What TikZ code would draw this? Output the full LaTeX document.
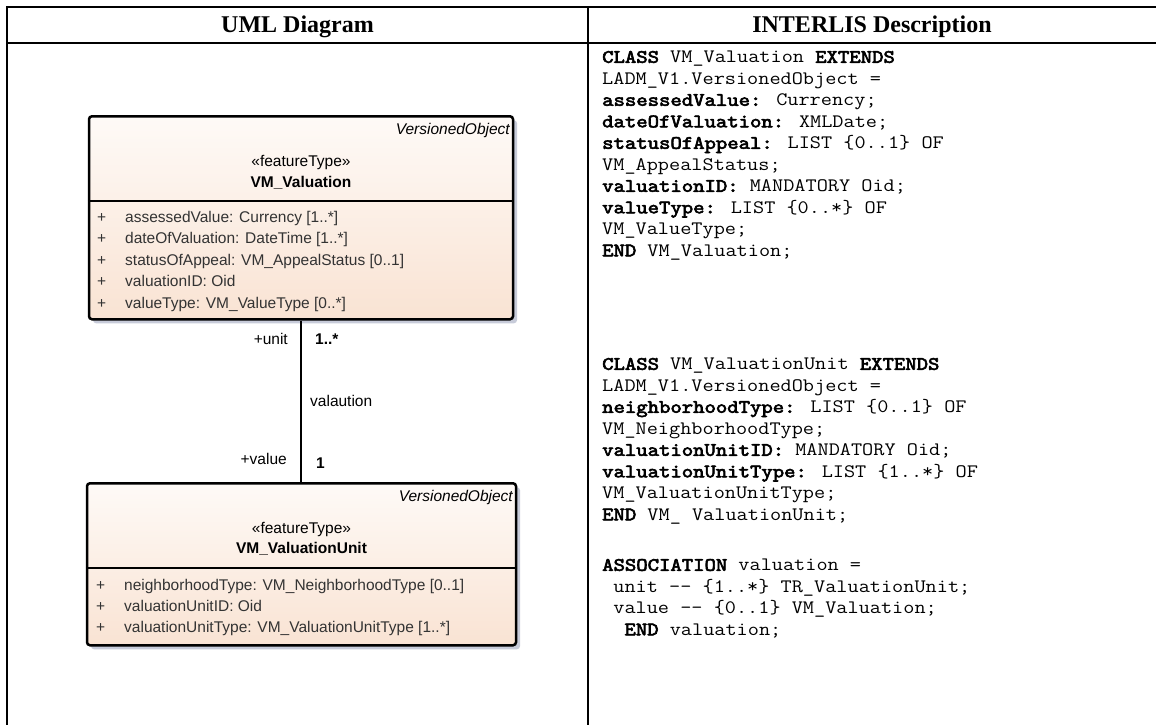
\documentclass[tikz,border=0pt]{standalone}
\usepackage{fontspec}
\setmainfont{Liberation Serif}
\setsansfont{Liberation Sans}
\newfontfamily\cbf{lmmono10-regular.otf}[FakeBold=3]
\usetikzlibrary{shadows}
\definecolor{umltop}{HTML}{FEFAF7}
\definecolor{umlbot}{HTML}{F9E3D3}
\definecolor{shadowc}{HTML}{C7CBD9}
\newcommand{\cw}[1]{\scalebox{1.14}[1]{#1}}
\newcommand{\kw}[1]{{\cbf #1}}
\begin{document}
\begin{tikzpicture}[x=1pt,y=-1pt,
  tline/.style={line width=2pt, line cap=rect},
  hdr/.style={font=\fontsize{24}{28}\selectfont\bfseries, inner sep=0pt, anchor=base},
  code/.style={font=\ttfamily\fontsize{19}{21.5}\selectfont, anchor=base west, inner sep=0pt},
  umlbox/.style={rounded corners=3pt, line width=2.5pt, draw=black, top color=umltop, bottom color=umlbot,
     drop shadow={shadow xshift=4pt, shadow yshift=-4pt, fill=shadowc, opacity=1}, inner sep=0pt},
  sep/.style={line width=2.5pt},
  uml/.style={font=\sffamily\fontsize{15.5}{18}\selectfont, inner sep=0pt, anchor=base},
  umlit/.style={font=\sffamily\itshape\fontsize{15.5}{18}\selectfont, inner sep=0pt, anchor=base east},
  umlbf/.style={font=\sffamily\bfseries\fontsize{15.5}{18}\selectfont, inner sep=0pt, anchor=base},
  attr/.style={font=\sffamily\fontsize{15.5}{18}\selectfont, inner sep=0pt, text=black!80, anchor=base west},
  role/.style={font=\sffamily\fontsize{15.5}{18}\selectfont, inner sep=0pt},
  mult/.style={font=\sffamily\bfseries\fontsize{15.5}{18}\selectfont, inner sep=0pt, anchor=base west},
  assoc/.style={line width=2.5pt},
]
\useasboundingbox (0,0) rectangle (1156,724);

% table grid
\draw[tline] (7,7) -- (1160,7);
\draw[tline] (7,43) -- (1160,43);
\draw[tline] (7,7) -- (7,730);
\draw[tline] (588,7) -- (588,730);

\node[hdr] (h1) at (297.5,32) {UML Diagram};
\node[hdr] (h2) at (872,32) {INTERLIS Description};

% UML class VM_Valuation
\node[umlbox, minimum width=424pt, minimum height=203pt, anchor=north] (b1) at (301,115) {};
\draw[sep] (b1.west |- 0,201) -- (b1.east |- 0,201);
\node[umlit] (vo1) at (510,134.3) {VersionedObject};
\node[uml] (st1) at (301,166.3) {«featureType»};
\node[umlbf] (n1) at (301,187.3) {VM\_Valuation};
\node[attr] (p11) at (97,222.3) {+};
\node[attr] (a11) at (125,222.3) {assessedValue: Currency [1..*]};
\node[attr] (p12) at (97,243.8) {+};
\node[attr] (a12) at (125,243.8) {dateOfValuation: DateTime [1..*]};
\node[attr] (p13) at (97,265.3) {+};
\node[attr] (a13) at (125,265.3) {statusOfAppeal: VM\_AppealStatus [0..1]};
\node[attr] (p14) at (97,286.8) {+};
\node[attr] (a14) at (125,286.8) {valuationID: Oid};
\node[attr] (p15) at (97,308.3) {+};
\node[attr] (a15) at (125,308.3) {valueType: VM\_ValueType [0..*]};

% UML class VM_ValuationUnit
\node[umlbox, minimum width=429pt, minimum height=162pt, anchor=north] (b2) at (301.5,482) {};
\draw[sep] (b2.west |- 0,568) -- (b2.east |- 0,568);
\node[umlit] (vo2) at (513,501.3) {VersionedObject};
\node[uml] (st2) at (301.5,533.3) {«featureType»};
\node[umlbf] (n2) at (301.5,553.3) {VM\_ValuationUnit};
\node[attr] (p21) at (96,590.3) {+};
\node[attr] (a21) at (124,590.3) {neighborhoodType: VM\_NeighborhoodType [0..1]};
\node[attr] (p22) at (96,611.3) {+};
\node[attr] (a22) at (124,611.3) {valuationUnitID: Oid};
\node[attr] (p23) at (96,632.3) {+};
\node[attr] (a23) at (124,632.3) {valuationUnitType: VM\_ValuationUnitType [1..*]};

% association
\draw[assoc] (b1.south) -- (b1.south |- b2.north);
\node[role, anchor=base east] (r1) at (288,344.3) {+unit};
\node[mult] (m1) at (315,344.3) {1..*};
\node[role, anchor=base west] (an) at (310,406.3) {valaution};
\node[role, anchor=base east] (r2) at (287,464.3) {+value};
\node[mult] (m2) at (316,468.3) {1};

% INTERLIS text
\node[code] (c01) at (602,62.8) {\cw{\kw{CLASS} VM\_Valuation \kw{EXTENDS}}};
\node[code] (c02) at (602,84.3) {\cw{LADM\_V1.VersionedObject =}};
\node[code] (c03) at (602,105.8) {\cw{\kw{assessedValue:} Currency;}};
\node[code] (c04) at (602,127.3) {\cw{\kw{dateOfValuation:} XMLDate;}};
\node[code] (c05) at (602,148.8) {\cw{\kw{statusOfAppeal:} LIST \{0..1\} OF}};
\node[code] (c06) at (602,170.3) {\cw{VM\_AppealStatus;}};
\node[code] (c07) at (602,191.8) {\cw{\kw{valuationID:} MANDATORY Oid;}};
\node[code] (c08) at (602,213.3) {\cw{\kw{valueType:} LIST \{0..*\} OF}};
\node[code] (c09) at (602,234.8) {\cw{VM\_ValueType;}};
\node[code] (c10) at (602,256.3) {\cw{\kw{END} VM\_Valuation;}};

\node[code] (c11) at (602,369.8) {\cw{\kw{CLASS} VM\_ValuationUnit \kw{EXTENDS}}};
\node[code] (c12) at (602,391.3) {\cw{LADM\_V1.VersionedObject =}};
\node[code] (c13) at (602,412.8) {\cw{\kw{neighborhoodType:} LIST \{0..1\} OF}};
\node[code] (c14) at (602,434.3) {\cw{VM\_NeighborhoodType;}};
\node[code] (c15) at (602,455.8) {\cw{\kw{valuationUnitID:} MANDATORY Oid;}};
\node[code] (c16) at (602,477.3) {\cw{\kw{valuationUnitType:} LIST \{1..*\} OF}};
\node[code] (c17) at (602,498.8) {\cw{VM\_ValuationUnitType;}};
\node[code] (c18) at (602,520.3) {\cw{\kw{END} VM\_ ValuationUnit;}};

\node[code] (c19) at (602,570.8) {\cw{\kw{ASSOCIATION} valuation =}};
\node[code] (c20) at (602,592.3) {\cw{\phantom{x}unit -{}- \{1..*\} TR\_ValuationUnit;}};
\node[code] (c21) at (602,613.8) {\cw{\phantom{x}value -{}- \{0..1\} VM\_Valuation;}};
\node[code] (c22) at (602,635.3) {\cw{\phantom{xx}\kw{END} valuation;}};
\end{tikzpicture}
\end{document}
